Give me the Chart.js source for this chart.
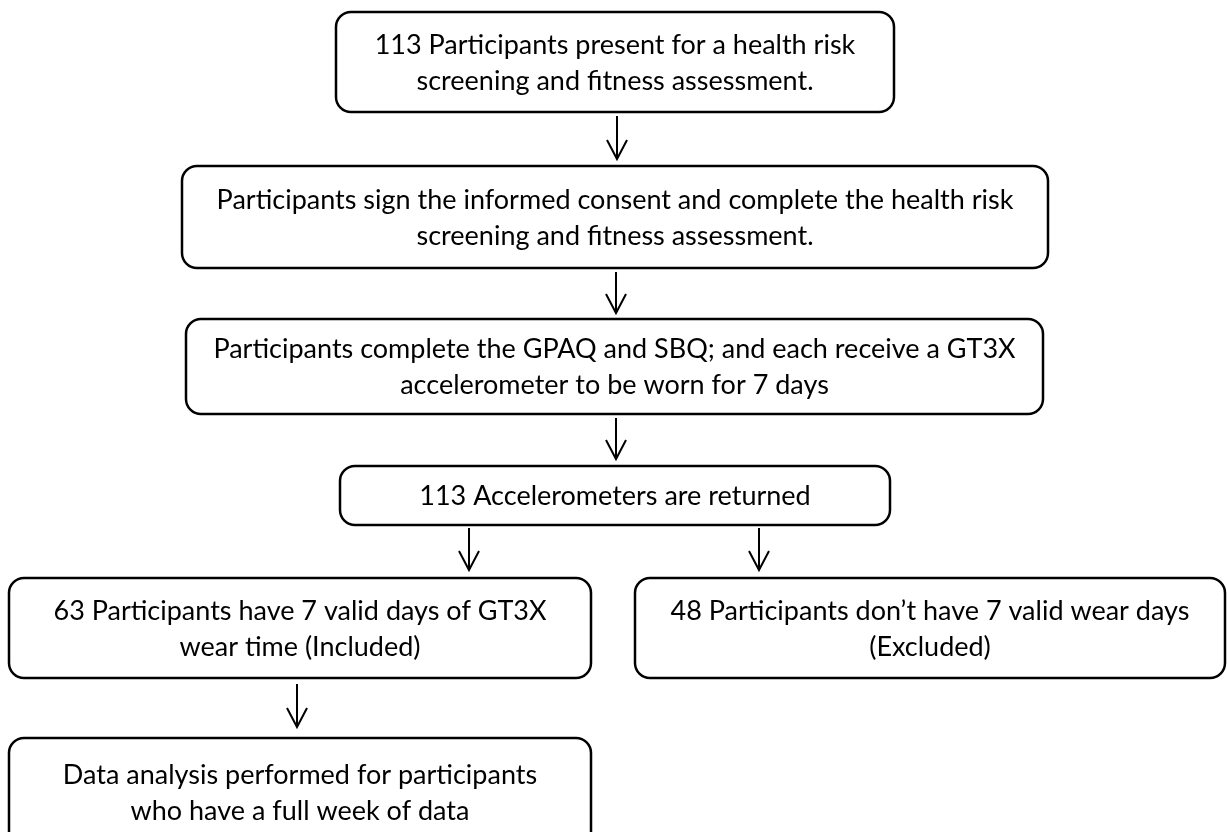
<!DOCTYPE html>
<html>
<head>
<meta charset="utf-8">
<script src="https://cdn.jsdelivr.net/npm/chart.js@4/dist/chart.umd.min.js"></script>
<style>
html,body{margin:0;padding:0;background:#fff;}
#wrap{width:1227px;height:832px;}
</style>
</head>
<body>
<div id="wrap"><canvas id="c" width="1227" height="832"></canvas></div>
<script>
// Flowchart steps (text lines)
const stepTexts = [
  ["113 Participants present for a health risk", "screening and fitness assessment."],
  ["Participants sign the informed consent and complete the health risk", "screening and fitness assessment."],
  ["Participants complete the GPAQ and SBQ; and each receive a GT3X", "accelerometer to be worn for 7 days"],
  ["113 Accelerometers are returned"],
  ["63 Participants have 7 valid days of GT3X", "wear time (Included)"],
  ["48 Participants don\u2019t have 7 valid wear days", "(Excluded)"],
  ["Data analysis performed for participants", "who have a full week of data"]
];
// Box extents in diagram units
const boxLeft   = [336, 182, 186, 340,   9, 635,   9];
const boxRight  = [894,1048,1043, 890, 591,1225, 591];
const boxTop    = [ 12, 166, 319, 466, 578, 578, 738];
const boxBottom = [112, 268, 414, 525, 678, 678, 846];
// Connectors: x, start y, end y
const arrowX     = [617, 616, 616, 469, 759, 297];
const arrowStart = [116, 272, 418, 528, 528, 684];
const arrowEnd   = [159, 313, 459, 570, 570, 727];

const flowPlugin = {
  id: 'flow',
  afterDatasetsDraw(chart) {
    const ctx = chart.ctx, xs = chart.scales.x, ys = chart.scales.y;
    ctx.save();
    ctx.strokeStyle = '#000';
    ctx.fillStyle = '#000';
    for (let i = 0; i < stepTexts.length; i++) {
      const l = xs.getPixelForValue(boxLeft[i]), r = xs.getPixelForValue(boxRight[i]);
      const t = ys.getPixelForValue(boxTop[i]), b = ys.getPixelForValue(boxBottom[i]);
      ctx.lineWidth = 2.5;
      ctx.beginPath();
      ctx.roundRect(l, t, r - l, b - t, 15);
      ctx.stroke();
      const lines = stepTexts[i];
      const cx = (l + r) / 2;
      const midY = (t + (i === 6 ? 846 : b)) / 2 + 1;
      const lh = 36;
      ctx.font = '27px Lato, "Open Sans", sans-serif';
      ctx.textAlign = 'center';
      ctx.textBaseline = 'middle';
      const y0 = midY - (lines.length - 1) * lh / 2;
      lines.forEach((s, k) => ctx.fillText(s, cx, y0 + k * lh));
    }
    ctx.lineWidth = 2;
    for (let i = 0; i < arrowX.length; i++) {
      const x = xs.getPixelForValue(arrowX[i]);
      const y1 = ys.getPixelForValue(arrowStart[i]), y2 = ys.getPixelForValue(arrowEnd[i]);
      ctx.beginPath();
      ctx.moveTo(x, y1); ctx.lineTo(x, y2);
      ctx.moveTo(x - 10, y2 - 19); ctx.lineTo(x, y2); ctx.lineTo(x + 10, y2 - 19);
      ctx.stroke();
    }
    ctx.restore();
  }
};

new Chart(document.getElementById('c'), {
  type: 'scatter',
  data: { datasets: [{ data: [], pointRadius: 0 }] },
  options: {
    responsive: false,
    animation: false,
    layout: { padding: 0 },
    plugins: { legend: { display: false }, tooltip: { enabled: false } },
    scales: {
      x: { type: 'linear', min: 0, max: 1227, display: false },
      y: { type: 'linear', min: 0, max: 832, reverse: true, display: false }
    }
  },
  plugins: [flowPlugin]
});
</script>
</body>
</html>
